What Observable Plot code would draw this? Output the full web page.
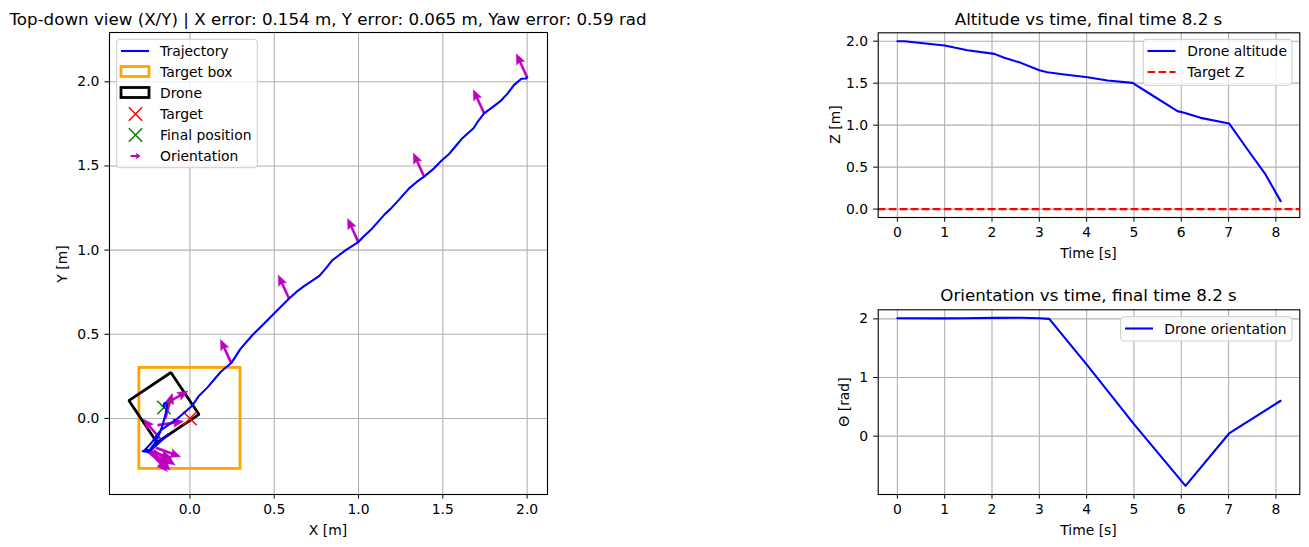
<!DOCTYPE html>
<html><head><meta charset="utf-8">
<script src="https://cdn.jsdelivr.net/npm/d3@7"></script>
<script src="https://cdn.jsdelivr.net/npm/@observablehq/plot@0.6"></script>
<style>
body{margin:0;background:#fff;}
#root{position:relative;width:1309px;height:547px;overflow:hidden;font-family:"DejaVu Sans",sans-serif;color:#000;background:#fff;}
</style></head><body><div id="root"></div>
<script>
// ---------- data ----------
const trajX = [2.0, 1.995, 1.966, 1.945, 1.923, 1.884, 1.844, 1.795, 1.745, 1.712, 1.682, 1.616, 1.578, 1.537, 1.490, 1.448, 1.389, 1.345, 1.300, 1.230, 1.190, 1.151, 1.072, 1.035, 0.999, 0.924, 0.845, 0.805, 0.766, 0.677, 0.630, 0.588, 0.508, 0.439, 0.370, 0.301, 0.245, 0.182, 0.103, 0.050, 0.015, -0.075, -0.174, -0.233, -0.273, -0.255, -0.280, -0.250, -0.190, -0.130, -0.200, -0.245, -0.265, -0.240, -0.210, -0.176, -0.160, -0.146, -0.140, -0.136, -0.140, -0.150, -0.156, -0.154];
const trajY = [2.027, 2.020, 2.018, 2.000, 1.982, 1.930, 1.887, 1.850, 1.813, 1.770, 1.724, 1.665, 1.620, 1.571, 1.530, 1.486, 1.437, 1.405, 1.367, 1.288, 1.245, 1.208, 1.119, 1.085, 1.048, 1.000, 0.940, 0.890, 0.845, 0.786, 0.750, 0.712, 0.633, 0.563, 0.494, 0.415, 0.329, 0.276, 0.183, 0.130, 0.077, -0.002, -0.071, -0.151, -0.194, -0.185, -0.195, -0.200, -0.150, -0.095, -0.160, -0.200, -0.186, -0.190, -0.150, -0.081, -0.030, 0.018, 0.050, 0.077, 0.090, 0.092, 0.080, 0.065];

const arrowX   = [2.0, 1.745, 1.389, 0.999, 0.588, 0.245, -0.176, -0.255, -0.250, -0.245, -0.235, -0.225, -0.215, -0.200, -0.190, -0.146, -0.146];
const arrowY   = [2.027, 1.813, 1.437, 1.048, 0.712, 0.329, -0.121, -0.190, -0.195, -0.200, -0.200, -0.195, -0.190, -0.175, -0.040, 0.000, 0.087];
const arrowYaw = [2.0, 2.0, 2.0, 2.0, 2.0, 2.0, 2.28, -0.30, -0.50, -0.70, -0.85, -0.80, -0.60, -0.35, 0.15, 1.30, 0.51];

const targetPos = [0, 0];
const finalPos = [-0.154, 0.065];
const finalYaw = 0.59;
const targetBoxHalf = 0.3;
const droneSize = 0.3;

const altT = [0, 0.15, 1.0, 1.48, 2.05, 2.26, 2.61, 3.0, 3.17, 3.53, 4.02, 4.44, 4.97, 5.36, 5.92, 6.06, 6.41, 7.01, 7.40, 7.78, 8.1];
const altZ = [2.0, 2.0, 1.948, 1.893, 1.849, 1.802, 1.742, 1.655, 1.631, 1.603, 1.571, 1.532, 1.504, 1.365, 1.167, 1.147, 1.087, 1.020, 0.710, 0.413, 0.095];
const targetZ = 0;

const oriT = [0, 1.0, 1.41, 2.05, 2.61, 3.0, 3.21, 4.02, 5.0, 6.09, 7.01, 8.1];
const oriTheta = [2.011, 2.009, 2.011, 2.017, 2.020, 2.011, 2.0, 1.202, 0.205, -0.849, 0.046, 0.604];

const xyTicks = [0, 0.5, 1, 1.5, 2];
const timeTicks = [0, 1, 2, 3, 4, 5, 6, 7, 8];
const altTicks = [0, 0.5, 1, 1.5, 2];
const oriTicks = [0, 1, 2];

// ---------- helpers ----------
const root = document.getElementById("root");
const baseStyle = {fontFamily: "DejaVu Sans, sans-serif", fontSize: "13.9px", color: "#000", background: "transparent", overflow: "visible"};
const gridStyle = {stroke: "#b0b0b0", strokeOpacity: 1, strokeWidth: 1.1};
const axisOpts = {tickSize: 4.6, tickPadding: 5.5, label: null};
function place(svg, left, top) {
  svg.style.position = "absolute";
  svg.style.left = left + "px";
  svg.style.top = top + "px";
  root.appendChild(svg);
}

const quiverShape = {
  draw(ctx, l) {
    const sw = 1.1, hw = 4.4, hl = 10.5, ha = 9.3;
    ctx.moveTo(-sw, 0);
    ctx.lineTo(-sw, -(l - ha));
    ctx.lineTo(-hw, -(l - hl));
    ctx.lineTo(0, -l);
    ctx.lineTo(hw, -(l - hl));
    ctx.lineTo(sw, -(l - ha));
    ctx.lineTo(sw, 0);
    ctx.closePath();
  }
};

// ---------- tables ----------
const traj = trajX.map((x, i) => ({x, y: trajY[i]}));
const arrows = arrowX.map((x, i) => ({x, y: arrowY[i], yaw: arrowYaw[i]}));
const h = droneSize / 2, c = Math.cos(finalYaw), s = Math.sin(finalYaw);
const drone = [[-1, -1], [1, -1], [1, 1], [-1, 1], [-1, -1]].map(([a, b]) => ({
  x: finalPos[0] + h * (a * c - b * s),
  y: finalPos[1] + h * (a * s + b * c)
}));
const alt = altT.map((t, i) => ({t, z: altZ[i]}));
const ori = oriT.map((t, i) => ({t, v: oriTheta[i]}));

// ---------- left panel ----------
const left = Plot.plot({
  width: 560, height: 547,
  marginTop: 32, marginRight: 13, marginBottom: 53, marginLeft: 109,
  style: baseStyle,
  x: {domain: [-0.477, 2.121]},
  y: {domain: [-0.452, 2.293]},
  marks: [
    Plot.gridX({ticks: xyTicks, ...gridStyle}),
    Plot.gridY({ticks: xyTicks, ...gridStyle}),
    Plot.rect([{x1: targetPos[0] - targetBoxHalf, x2: targetPos[0] + targetBoxHalf, y1: targetPos[1] - targetBoxHalf, y2: targetPos[1] + targetBoxHalf}],
      {x1: "x1", x2: "x2", y1: "y1", y2: "y2", fill: "none", stroke: "#ffa500", strokeWidth: 2.8}),
    Plot.line(drone, {x: "x", y: "y", stroke: "black", strokeWidth: 2.8, strokeLinejoin: "miter"}),
    Plot.vector(arrows, {x: "x", y: "y", rotate: d => 90 - d.yaw * 180 / Math.PI, length: 26, anchor: "start",
      shape: quiverShape, fill: "#bf00bf", stroke: "#bf00bf", strokeWidth: 0.4}),
    Plot.dot([{x: targetPos[0], y: targetPos[1]}], {x: "x", y: "y", symbol: "times", r: 6.2, stroke: "red", strokeWidth: 1.5}),
    Plot.dot([{x: finalPos[0], y: finalPos[1]}], {x: "x", y: "y", symbol: "times", r: 6.2, stroke: "green", strokeWidth: 1.5}),
    Plot.line(traj, {x: "x", y: "y", stroke: "blue", strokeWidth: 2.1}),
    Plot.axisX({ticks: xyTicks, tickFormat: d3.format(".1f"), ...axisOpts}),
    Plot.axisY({ticks: xyTicks, tickFormat: d3.format(".1f"), ...axisOpts}),
    Plot.frame({stroke: "black", strokeWidth: 1.1})
  ]
});
place(left, 0, 0);

// ---------- altitude panel ----------
const altPlot = Plot.plot({
  width: 479, height: 270,
  marginTop: 32.3, marginRight: 9.7, marginBottom: 53, marginLeft: 47.7,
  style: baseStyle,
  x: {domain: [-0.405, 8.505]},
  y: {domain: [-0.1, 2.1]},
  marks: [
    Plot.gridX({ticks: timeTicks, ...gridStyle}),
    Plot.gridY({ticks: altTicks, ...gridStyle}),
    Plot.line(alt, {x: "t", y: "z", stroke: "blue", strokeWidth: 2.1}),
    Plot.ruleY([targetZ], {stroke: "red", strokeWidth: 2.1, strokeDasharray: "7.7,3.3"}),
    Plot.axisX({ticks: timeTicks, tickFormat: d3.format("d"), ...axisOpts}),
    Plot.axisY({ticks: altTicks, tickFormat: d3.format(".1f"), ...axisOpts}),
    Plot.frame({stroke: "black", strokeWidth: 1.1})
  ]
});
place(altPlot, 830, 0);

// ---------- orientation panel ----------
const oriPlot = Plot.plot({
  width: 479, height: 277,
  marginTop: 39.3, marginRight: 9.7, marginBottom: 53, marginLeft: 47.7,
  style: baseStyle,
  x: {domain: [-0.405, 8.505]},
  y: {domain: [-0.995, 2.155]},
  marks: [
    Plot.gridX({ticks: timeTicks, ...gridStyle}),
    Plot.gridY({ticks: oriTicks, ...gridStyle}),
    Plot.line(ori, {x: "t", y: "v", stroke: "blue", strokeWidth: 2.1}),
    Plot.axisX({ticks: timeTicks, tickFormat: d3.format("d"), ...axisOpts}),
    Plot.axisY({ticks: oriTicks, tickFormat: d3.format("d"), ...axisOpts}),
    Plot.frame({stroke: "black", strokeWidth: 1.1})
  ]
});
place(oriPlot, 830, 270);

// ---------- overlay: titles, labels, legends ----------
const ov = d3.select(root).append("svg")
  .attr("width", 1309).attr("height", 547)
  .style("position", "absolute").style("left", "0px").style("top", "0px")
  .style("font-family", "DejaVu Sans, sans-serif").style("pointer-events", "none");

function txt(x, y, str, size, opts = {}) {
  const t = ov.append("text").attr("x", x).attr("y", y).attr("font-size", size)
    .attr("fill", "#000").attr("dominant-baseline", "central")
    .attr("text-anchor", opts.anchor || "middle").text(str);
  if (opts.rotate) t.attr("transform", `rotate(-90 ${x} ${y})`);
  return t;
}
txt(328, 18.5, "Top-down view (X/Y) | X error: 0.154 m, Y error: 0.065 m, Yaw error: 0.59 rad", "16.7px");
txt(1088.5, 18.5, "Altitude vs time, final time 8.2 s", "16.7px");
txt(1088.5, 294.5, "Orientation vs time, final time 8.2 s", "16.7px");
txt(328, 530, "X [m]", "13.9px");
txt(62, 264, "Y [m]", "13.9px", {rotate: true});
txt(1088.5, 253, "Time [s]", "13.9px");
txt(1088.5, 530, "Time [s]", "13.9px");
txt(835, 124.5, "Z [m]", "13.9px", {rotate: true});
txt(844, 402, "Θ [rad]", "13.9px", {rotate: true});

function box(x, y, w, hgt) {
  ov.append("rect").attr("x", x).attr("y", y).attr("width", w).attr("height", hgt)
    .attr("rx", 3).attr("fill", "rgba(255,255,255,0.8)").attr("stroke", "#cccccc").attr("stroke-width", 1);
}
function lineH(x1, x2, y, color, dash) {
  const l = ov.append("line").attr("x1", x1).attr("x2", x2).attr("y1", y).attr("y2", y)
    .attr("stroke", color).attr("stroke-width", 2.1);
  if (dash) l.attr("stroke-dasharray", dash);
}
function rectH(x1, x2, y, color) {
  ov.append("rect").attr("x", x1).attr("y", y - 5).attr("width", x2 - x1).attr("height", 10)
    .attr("fill", "none").attr("stroke", color).attr("stroke-width", 2.8);
}
function xH(cx, cy, color) {
  const r = 6.7;
  ov.append("path").attr("d", `M${cx - r},${cy - r}L${cx + r},${cy + r}M${cx - r},${cy + r}L${cx + r},${cy - r}`)
    .attr("stroke", color).attr("stroke-width", 1.5).attr("fill", "none");
}
function arrowH(x1, x2, y) {
  ov.append("path").attr("d", `M${x1},${y - 1}L${x2 - 4},${y - 1}L${x2 - 4.5},${y - 3.5}L${x2},${y}L${x2 - 4.5},${y + 3.5}L${x2 - 4},${y + 1}L${x1},${y + 1}Z`)
    .attr("fill", "#bf00bf");
}

// left legend
box(116.7, 39.3, 140.6, 128.4);
const lx1 = 121, lx2 = 149, ltx = 160;
lineH(lx1, lx2, 51, "blue");
rectH(lx1, lx2, 71.5, "#ffa500");
rectH(lx1, lx2, 92.5, "black");
xH(135.5, 114, "red");
xH(135.5, 135, "green");
arrowH(130.5, 140.5, 156);
["Trajectory", "Target box", "Drone", "Target", "Final position", "Orientation"].forEach((s, i) =>
  txt(ltx, 51 + 21 * i, s, "13.9px", {anchor: "start"}));

// altitude legend
box(1143.3, 39.3, 148.7, 46);
lineH(1147.5, 1175.5, 51, "blue");
lineH(1147.5, 1175.5, 72, "red", "7.7,3.3");
txt(1187.3, 51, "Drone altitude", "13.9px", {anchor: "start"});
txt(1187.3, 72, "Target Z", "13.9px", {anchor: "start"});

// orientation legend
box(1120.7, 316.7, 171.3, 24.3);
lineH(1125, 1153, 328.5, "blue");
txt(1164.3, 328.5, "Drone orientation", "13.9px", {anchor: "start"});
</script></body></html>
